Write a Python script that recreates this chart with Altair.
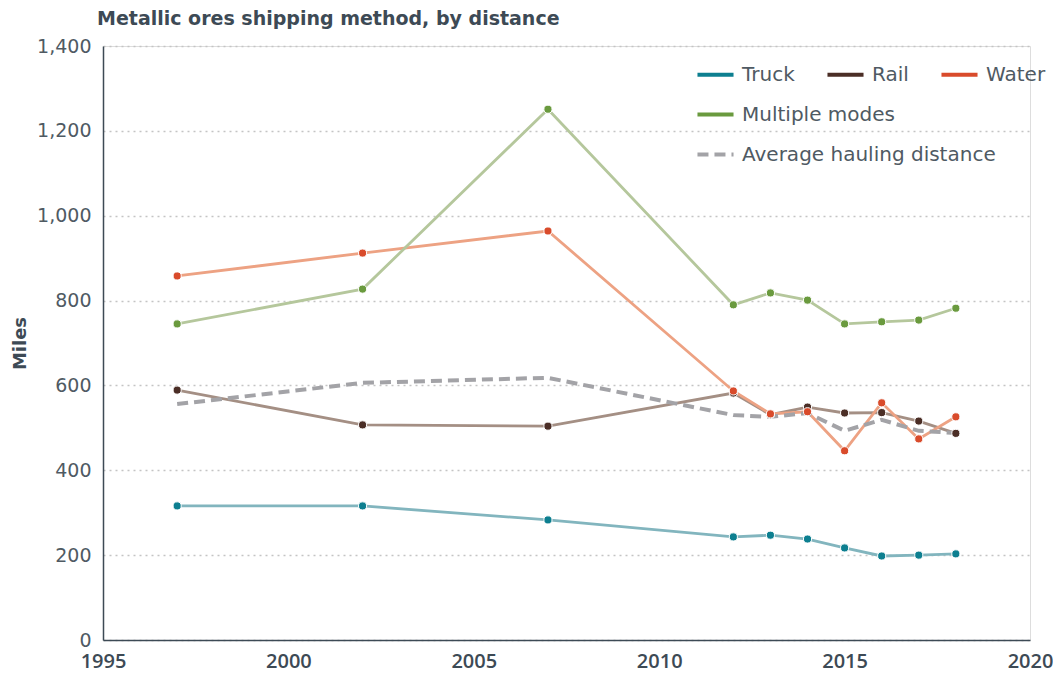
import altair as alt
import pandas as pd

years = [1997, 2002, 2007, 2012, 2013, 2014, 2015, 2016, 2017, 2018]
truck = [316, 316, 283, 243, 247, 238, 217, 198, 200, 203]
rail = [589, 507, 504, 582, 531, 549, 535, 536, 516, 487]
water = [858, 912, 964, 587, 533, 538, 446, 559, 474, 526]
multiple = [745, 827, 1251, 790, 818, 801, 745, 750, 754, 782]
average = [556, 606, 618, 530, 526, 535, 493, 519, 493, 488]

modes = ["Truck", "Rail", "Water", "Multiple modes"]
line_colors = ["#82b5be", "#a48f84", "#eda283", "#b5c79c"]
point_colors = ["#0d7f90", "#4b2e26", "#d94b2b", "#6a9a3e"]

rows = []
for name, vals in zip(modes, [truck, rail, water, multiple]):
    for y, v in zip(years, vals):
        rows.append({"year": y, "mode": name, "miles": v})
df = pd.DataFrame(rows)
avg_df = pd.DataFrame({"year": years, "miles": average, "series": "Average hauling distance"})

FONT = "DejaVu Sans"
DARK = "#3d4a55"
TXT = "#4f5a63"
LX = 592

x_enc = alt.X("year:Q", scale=alt.Scale(domain=[1995, 2020], nice=False),
              axis=alt.Axis(values=[1995, 2000, 2005, 2010, 2015, 2020], format="d", title=None,
                            grid=False, ticks=False, labelPadding=11, labelFontSize=20,
                            labelFlush=False, labelBound=False,
                            labelFont="Open Sans", labelFontWeight=600, labelColor=DARK,
                            domainColor=DARK, domainWidth=1.5))
y_enc = alt.Y("miles:Q", scale=alt.Scale(domain=[0, 1400], nice=False),
              axis=alt.Axis(values=list(range(0, 1401, 200)), format=",d", title="Miles",
                            titleFontSize=18, titleFontWeight="bold", titleColor=DARK,
                            titlePadding=7, ticks=False, labelPadding=12, labelFontSize=19,
                            labelColor=TXT, labelFontWeight="normal",
                            grid=True, gridDash=[2, 4], gridColor="#c4c4c4", gridWidth=1.5,
                            domainColor=DARK, domainWidth=1.5))

legend_common = dict(title=None, orient="none", symbolType="stroke", symbolStrokeWidth=4,
                     symbolSize=1300, labelFontSize=20, labelColor=TXT, labelFont=FONT,
                     labelOffset=6, direction="horizontal", columnPadding=24, labelLimit=400)

# dark thin lines underneath (hidden by light lines) carry the legends
dark_main = alt.Chart(df[df["mode"] != "Multiple modes"]).mark_line(strokeWidth=1).encode(
    x=x_enc, y=y_enc,
    color=alt.Color("mode:N", scale=alt.Scale(domain=modes[:3], range=point_colors[:3]),
                    legend=alt.Legend(legendX=LX, legendY=8, **legend_common)),
)
dark_multi = alt.Chart(df[df["mode"] == "Multiple modes"]).mark_line(strokeWidth=1).encode(
    x="year:Q", y="miles:Q",
    color=alt.Color("mode:N", scale=alt.Scale(domain=modes[3:], range=point_colors[3:]),
                    legend=alt.Legend(legendX=LX, legendY=48, **legend_common)),
)

lines = alt.Chart(df).mark_line(strokeWidth=2.8).encode(
    x="year:Q", y="miles:Q",
    color=alt.Color("mode:N", scale=alt.Scale(domain=modes, range=line_colors), legend=None),
    detail="mode:N",
)

avg_line = alt.Chart(avg_df).mark_line(strokeWidth=4, color="#a3a3a7").encode(
    x="year:Q", y="miles:Q",
    strokeDash=alt.StrokeDash("series:N", scale=alt.Scale(range=[[11, 6]]),
                              legend=alt.Legend(legendX=LX, legendY=88,
                                                symbolStrokeColor="#a3a3a7", **legend_common)),
)

points = alt.Chart(df).mark_point(filled=True, size=66, opacity=1, stroke="white", strokeWidth=1).encode(
    x="year:Q", y="miles:Q",
    color=alt.Color("mode:N", scale=alt.Scale(domain=modes, range=point_colors), legend=None),
)

chart = alt.layer(dark_main, dark_multi, lines, avg_line, points).resolve_scale(
    color="independent", strokeDash="independent"
).properties(
    width=927, height=594,
    padding={"left": 3, "top": 2, "right": 0, "bottom": 3},
    title=alt.TitleParams("Metallic ores shipping method, by distance", anchor="start", frame="group",
                          fontSize=19, fontWeight="bold", color=DARK, font=FONT, dx=-6, offset=8),
).configure_view(stroke=None).configure(font=FONT)

chart.save("out.html", embed_options={"renderer": "svg", "actions": False})
